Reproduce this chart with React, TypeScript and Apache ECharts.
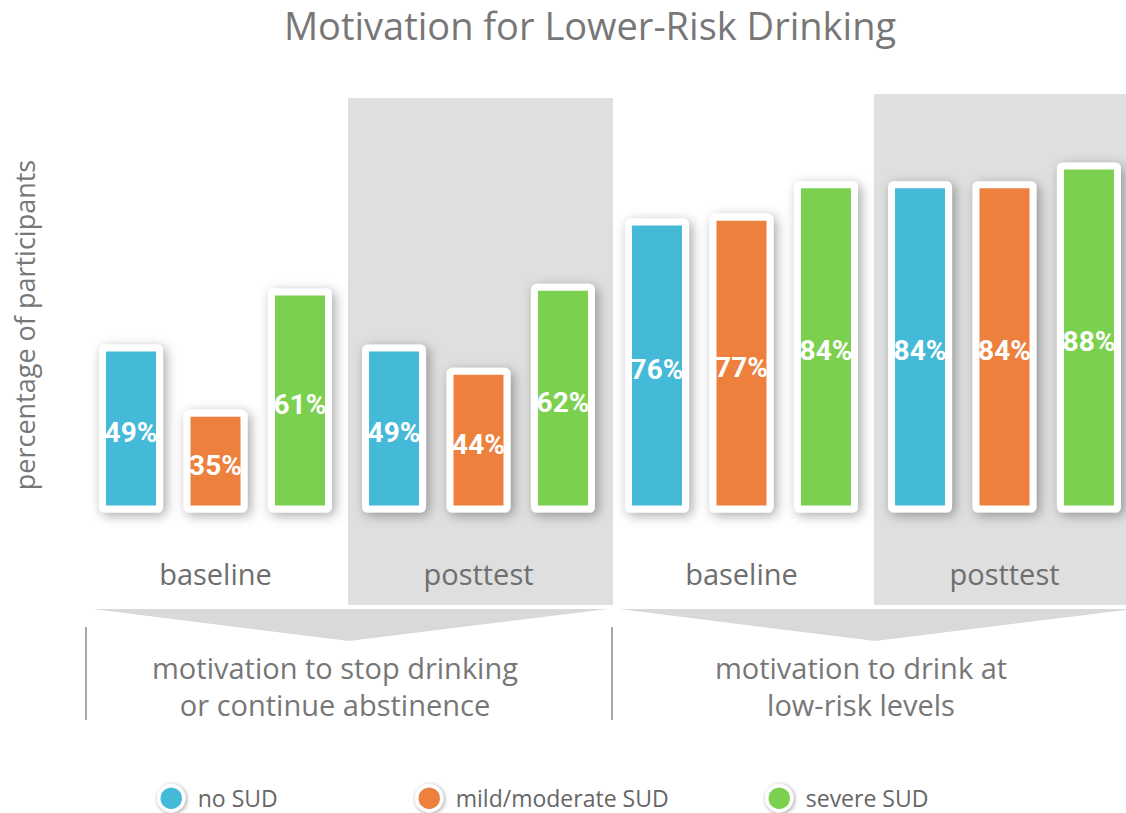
import React, { useEffect, useRef } from "react";
import * as echarts from "echarts";

const categories = ["baseline", "posttest", "baseline", "posttest"];
const seriesNames = ["no SUD", "mild/moderate SUD", "severe SUD"];
const noSUD = [49, 49, 76, 84];
const mildSUD = [35, 44, 77, 84];
const severeSUD = [61, 62, 84, 88];
const colors = ["#45b9d8", "#ed803e", "#7bd050"];
const groupLabels = [
  "motivation to stop drinking\nor continue abstinence",
  "motivation to drink at\nlow-risk levels",
];
const yAxisTitle = "percentage of participants";
const shadedCategories = [1, 3];

const TEXT_FONT = "'Open Sans', Lato, sans-serif";
const GRAY = "#777777";

export default function App() {
  const ref = useRef<HTMLDivElement>(null);

  useEffect(() => {
    if (!ref.current) return;
    const chart = echarts.init(ref.current, undefined, { renderer: "svg" });
    const values = [noSUD, mildSUD, severeSUD];
    const legendLefts = [157, 415, 765];

    chart.setOption({
      animation: false,
      backgroundColor: "#ffffff",
      title: {
        text: "Motivation for Lower-Risk Drinking",
        left: 590,
        textAlign: "center",
        top: 6,
        padding: 0,
        textStyle: { fontFamily: TEXT_FONT, fontSize: 38, fontWeight: "normal", color: GRAY },
      },
      legend: seriesNames.map((n, i) => ({
        data: [n],
        left: legendLefts[i],
        top: 784,
        padding: 0,
        icon: "circle",
        itemWidth: 25,
        itemHeight: 25,
        itemGap: 0,
        selectedMode: false,
        itemStyle: {
          color: colors[i],
          borderColor: "#ffffff",
          borderWidth: 3.5,
          shadowBlur: 4,
          shadowColor: "rgba(0,0,0,0.4)",
          shadowOffsetX: 1,
          shadowOffsetY: 1,
        },
        textStyle: {
          fontFamily: TEXT_FONT,
          fontSize: 23,
          lineHeight: 25,
          color: "#666666",
          padding: [0, 0, 0, 9],
        },
      })),
      grid: { left: 84, width: 1052, top: 106.5, height: 406, containLabel: false },
      xAxis: {
        type: "category",
        data: categories,
        axisLine: { show: false },
        axisTick: { show: false },
        axisLabel: {
          margin: 46,
          fontFamily: TEXT_FONT,
          fontSize: 29,
          color: "#6e6e6e",
        },
      },
      yAxis: {
        type: "value",
        min: 13,
        max: 100,
        startValue: 13,
        axisLine: { show: false },
        axisTick: { show: false },
        axisLabel: { show: false },
        splitLine: { show: false },
      },
      series: seriesNames.map((n, i) => ({
        name: n,
        type: "bar",
        data: values[i],
        barWidth: 64,
        barGap: "32%",
        clip: false,
        z: 5,
        itemStyle: {
          color: colors[i],
          borderColor: "#ffffff",
          borderWidth: 7,
          borderRadius: 2,
          shadowBlur: 12,
          shadowColor: "rgba(0,0,0,0.35)",
          shadowOffsetX: 3,
          shadowOffsetY: 3,
        },
        label: {
          show: true,
          position: "inside",
          formatter: "{c}%",
          color: "#ffffff",
          fontFamily: "Roboto, sans-serif",
          fontWeight: "bold",
          fontSize: 28,
          offset: [0, 4],
        },
      })),
    });

    const c0 = chart.convertToPixel({ xAxisIndex: 0 }, 0) as number;
    const c1 = chart.convertToPixel({ xAxisIndex: 0 }, 1) as number;
    const band = c1 - c0;
    const leftEdge = (i: number) => c0 + (i - 0.5) * band;
    const shadeTops = [98, 94];

    const elements: any[] = [];
    shadedCategories.forEach((ci, k) => {
      elements.push({
        type: "rect",
        z: -10,
        shape: { x: leftEdge(ci) + 1, y: shadeTops[k], width: band + 2, height: 605 - shadeTops[k] },
        style: { fill: "#dfdfdf" },
      });
    });
    groupLabels.forEach((txt, p) => {
      const l = leftEdge(2 * p);
      const r = leftEdge(2 * p + 2);
      const mid = (l + r) / 2;
      elements.push({
        type: "polygon",
        z: -10,
        shape: { points: [[l + 9, 609], [r - 2, 609], [mid + 2, 641]] },
        style: { fill: "#d9d9d9" },
      });
      elements.push({
        type: "line",
        z: -10,
        shape: { x1: l + 2, y1: 627, x2: l + 2, y2: 720 },
        style: { stroke: "#8a8a8a", lineWidth: 1.5 },
      });
      elements.push({
        type: "text",
        z: -5,
        x: mid - 12,
        y: 686,
        style: {
          text: txt,
          fontFamily: TEXT_FONT,
          fontSize: 29,
          lineHeight: 37,
          fill: GRAY,
          align: "center",
          verticalAlign: "middle",
        },
      });
    });
    elements.push({
      type: "text",
      x: 24,
      y: 325,
      rotation: Math.PI / 2,
      style: {
        text: yAxisTitle,
        fontFamily: TEXT_FONT,
        fontSize: 27,
        fill: GRAY,
        align: "center",
        verticalAlign: "middle",
      },
    });
    chart.setOption({ graphic: { elements } });

    return () => chart.dispose();
  }, []);

  return (
    <div
      style={{ position: "absolute", left: 0, top: 0, width: 1126, height: 813, overflow: "hidden", background: "#ffffff" }}
    >
      <div ref={ref} style={{ width: 1140, height: 813 }} />
    </div>
  );
}
